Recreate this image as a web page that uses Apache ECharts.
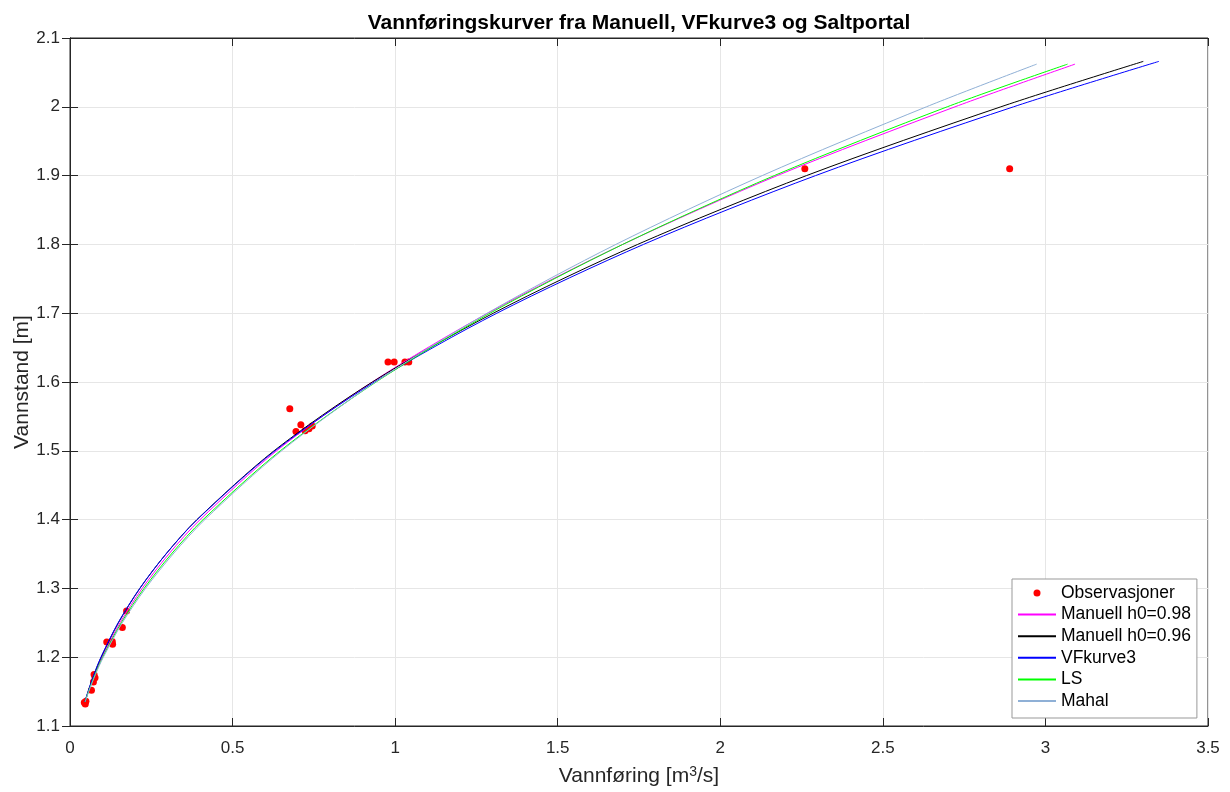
<!DOCTYPE html>
<html>
<head>
<meta charset="utf-8">
<script src="https://cdn.jsdelivr.net/npm/echarts@6/dist/echarts.min.js"></script>
<style>
  html, body { margin: 0; padding: 0; background: #fff; }
  #chart { width: 1230px; height: 792px; }
</style>
</head>
<body>
<div id="chart"></div>
<script>
// observations (discharge m3/s, stage m)
const obsQ = [0.044, 0.047, 0.049, 0.066, 0.072, 0.077, 0.074, 0.113, 0.130, 0.131, 0.161, 0.174,
  0.676, 0.695, 0.710, 0.723, 0.735, 0.745, 0.978, 0.997, 1.030, 1.042, 2.260, 2.890]
const obsH = [1.134, 1.132, 1.136, 1.152, 1.164, 1.170, 1.175, 1.222, 1.223, 1.219, 1.243, 1.267,
  1.561, 1.528, 1.538, 1.529, 1.532, 1.536, 1.629, 1.629, 1.629, 1.629, 1.910, 1.910]

// stage levels where the curves were read
const stageLevels = [1.135, 1.15, 1.175, 1.2, 1.25, 1.3, 1.35, 1.4, 1.5, 1.6, 1.7, 1.8, 1.9, 2.0]
const manuell098Q = [0.0462, 0.0564, 0.0760, 0.0986, 0.1537, 0.2220, 0.3040, 0.4000, 0.6352, 0.9295, 1.285, 1.700, 2.175, 2.722]
const manuell096Q = [0.0462, 0.0558, 0.0743, 0.0959, 0.1487, 0.2149, 0.2952, 0.3904, 0.6275, 0.9299, 1.302, 1.746, 2.265, 2.863]
const vfkurve3Q = [0.0456, 0.0553, 0.0737, 0.0952, 0.1480, 0.2145, 0.2952, 0.3911, 0.6303, 0.9364, 1.313, 1.764, 2.293, 2.902]
const lsQ = [0.0463, 0.0569, 0.0772, 0.1007, 0.1575, 0.2278, 0.3117, 0.4093, 0.6467, 0.9413, 1.292, 1.700, 2.166, 2.698]
const mahalQ = [0.0464, 0.0574, 0.0783, 0.1025, 0.1607, 0.2322, 0.3170, 0.4148, 0.6508, 0.9398, 1.283, 1.679, 2.129, 2.634]
// last point of each curve [Q, h]
const manuell098End = [3.091, 2.062]
const manuell096End = [3.301, 2.066]
const vfkurve3End = [3.349, 2.066]
const lsEnd = [3.068, 2.062]
const mahalEnd = [2.973, 2.062]

const xTicks = { min: 0, max: 3.5, interval: 0.5 }
const yTicks = { min: 1.1, max: 2.1, interval: 0.1 }

function curve(qs, end) {
  const pts = qs.map((q, i) => [q, stageLevels[i]])
  pts.push(end)
  return pts
}

const fontFamily = '"Liberation Sans", Arial, Helvetica, sans-serif'
const axisColor = '#262626'

function fmt(v) {
  return String(Math.round(v * 100) / 100)
}

const lineSeries = (name, data, color) => ({
  name: name,
  type: 'line',
  data: data,
  symbol: 'none',
  smooth: 0.3,
  lineStyle: { color: color, width: 1 },
  itemStyle: { color: color },
  animation: false
})

// legend entry for a line: hide the dot ECharts puts on the line icon
const lineLegend = (name) => ({ name: name, itemStyle: { opacity: 0 } })

const chart = echarts.init(document.getElementById('chart'))

chart.setOption({
  backgroundColor: '#fff',
  textStyle: { fontFamily: fontFamily },
  title: {
    text: 'Vannføringskurver fra Manuell, VFkurve3 og Saltportal',
    left: 634,
    textAlign: 'center',
    top: 8,
    textStyle: { fontSize: 21, fontWeight: 'bold', color: '#000', fontFamily: fontFamily }
  },
  grid: {
    left: 70,
    right: 22,
    top: 38,
    bottom: 66,
    outerBoundsMode: 'none',
    containLabel: false,
    show: true,
    borderColor: axisColor,
    borderWidth: 1,
    backgroundColor: '#fff'
  },
  legend: {
    orient: 'vertical',
    left: 1012,
    top: 579,
    padding: [5, 6, 8, 5],
    itemWidth: 38,
    itemHeight: 7,
    itemGap: 3.6,
    borderColor: '#999',
    borderWidth: 1,
    backgroundColor: '#fff',
    textStyle: { fontSize: 17.5, color: '#000', lineHeight: 17, fontFamily: fontFamily },
    data: [
      'Observasjoner',
      lineLegend('Manuell h0=0.98'),
      lineLegend('Manuell h0=0.96'),
      lineLegend('VFkurve3'),
      lineLegend('LS'),
      lineLegend('Mahal')
    ]
  },
  xAxis: [{
    type: 'value',
    min: xTicks.min,
    max: xTicks.max,
    interval: xTicks.interval,
    name: 'Vannføring [m{sup|3}/s]',
    nameLocation: 'middle',
    nameGap: 39,
    nameTextStyle: {
      fontSize: 21,
      color: axisColor,
      rich: { sup: { fontSize: 14, verticalAlign: 'top', padding: [0, 0, 9, 0], color: axisColor } }
    },
    axisLine: { lineStyle: { color: axisColor } },
    axisTick: { inside: true, length: 8, lineStyle: { color: axisColor } },
    axisLabel: { fontSize: 17, color: axisColor, margin: 14, formatter: fmt },
    splitLine: { lineStyle: { color: '#e6e6e6' } }
  }, {
    type: 'value',
    position: 'top',
    min: xTicks.min,
    max: xTicks.max,
    interval: xTicks.interval,
    axisLine: { lineStyle: { color: axisColor } },
    axisTick: { inside: true, length: 8, lineStyle: { color: axisColor } },
    axisLabel: { show: false },
    splitLine: { show: false }
  }],
  yAxis: [{
    type: 'value',
    min: yTicks.min,
    max: yTicks.max,
    interval: yTicks.interval,
    name: 'Vannstand [m]',
    nameLocation: 'middle',
    nameGap: 37,
    nameMoveOverlap: false,
    nameTextStyle: { fontSize: 21, color: axisColor },
    axisLine: { show: true, lineStyle: { color: axisColor } },
    axisTick: { show: true, inside: true, length: 8, lineStyle: { color: axisColor } },
    axisLabel: { fontSize: 17, color: axisColor, margin: 10, formatter: fmt },
    splitLine: { lineStyle: { color: '#e6e6e6' } }
  }, {
    type: 'value',
    position: 'right',
    min: yTicks.min,
    max: yTicks.max,
    interval: yTicks.interval,
    axisLine: { show: true, lineStyle: { color: axisColor } },
    axisTick: { show: true, inside: true, length: 8, lineStyle: { color: axisColor } },
    axisLabel: { show: false },
    splitLine: { show: false }
  }],
  series: [
    {
      name: 'Observasjoner',
      type: 'scatter',
      data: obsQ.map((q, i) => [q, obsH[i]]),
      symbol: 'circle',
      symbolSize: 7,
      itemStyle: { color: '#ff0000', opacity: 1 },
      animation: false
    },
    lineSeries('Manuell h0=0.98', curve(manuell098Q, manuell098End), '#ff00ff'),
    lineSeries('Manuell h0=0.96', curve(manuell096Q, manuell096End), '#000000'),
    lineSeries('VFkurve3', curve(vfkurve3Q, vfkurve3End), '#0000ff'),
    lineSeries('LS', curve(lsQ, lsEnd), '#00ff00'),
    lineSeries('Mahal', curve(mahalQ, mahalEnd), '#8fb0d6')
  ]
})
</script>
</body>
</html>
